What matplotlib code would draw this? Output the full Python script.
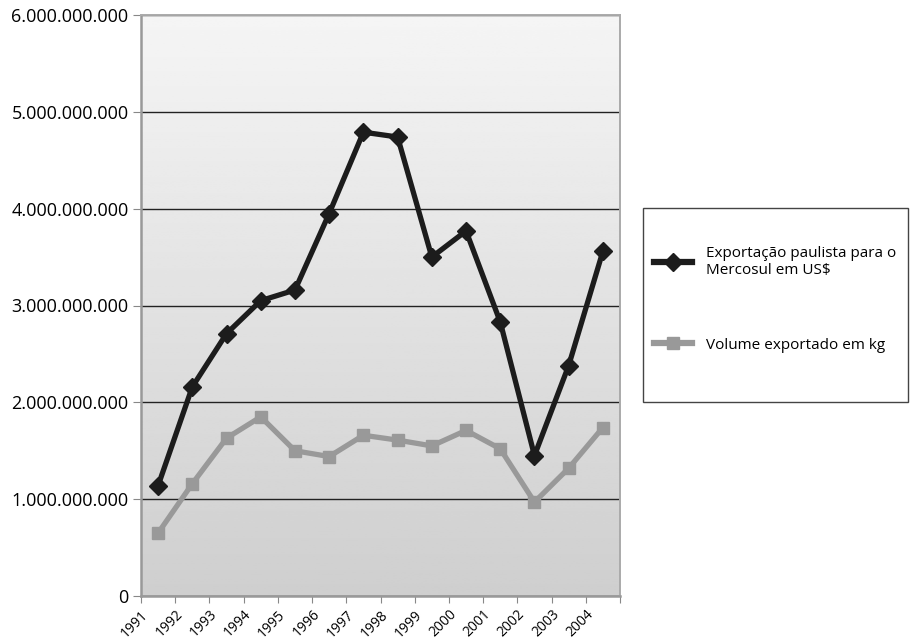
import numpy as np
import matplotlib
matplotlib.use('Agg')
import matplotlib.pyplot as plt
from matplotlib.lines import Line2D
from matplotlib.patches import Rectangle
from matplotlib.ticker import FuncFormatter
import matplotlib.transforms as mtrans

plt.rcParams['font.family'] = ['Open Sans', 'DejaVu Sans']

years = ['1991', '1992', '1993', '1994', '1995', '1996', '1997',
         '1998', '1999', '2000', '2001', '2002', '2003', '2004']
exp_usd = [1.14e9, 2.16e9, 2.71e9, 3.05e9, 3.16e9, 3.95e9, 4.79e9,
           4.74e9, 3.50e9, 3.77e9, 2.83e9, 1.45e9, 2.38e9, 3.56e9]
vol_kg = [0.65e9, 1.16e9, 1.63e9, 1.85e9, 1.50e9, 1.44e9, 1.66e9,
          1.61e9, 1.55e9, 1.71e9, 1.52e9, 0.97e9, 1.32e9, 1.74e9]

lbl_usd = 'Exportação paulista para o\nMercosul em US\\$'
lbl_kg = 'Volume exportado em kg'

fig = plt.figure(figsize=(9.1, 6.4), dpi=100)
ax = fig.add_axes([141/910, 44/640, 479/910, 581/640])

# gradient background
grad = np.linspace(0.96, 0.81, 256).reshape(-1, 1)
ax.imshow(grad, cmap='gray', vmin=0, vmax=1, aspect='auto',
          extent=[0, 1, 0, 1], transform=ax.transAxes, zorder=0)

x = np.arange(len(years))
ax.plot(x, exp_usd, color='#1c1c1c', lw=3.8, marker='D', ms=9.5,
        zorder=4, label=lbl_usd)
ax.plot(x, vol_kg, color='#999999', lw=3.8, marker='s', ms=9,
        zorder=3, label=lbl_kg)

ax.set_xlim(-0.5, len(years) - 0.5)
ax.set_ylim(0, 6e9)
ax.set_yticks(np.arange(0, 6.01e9, 1e9))
ax.yaxis.set_major_formatter(FuncFormatter(lambda v, p: f'{int(round(v)):,}'.replace(',', '.')))
ax.set_xticks(np.arange(-0.5, len(years)))
ax.set_xticklabels(years + [''], rotation=45, ha='right',
                   rotation_mode='anchor', fontsize=10)
for t in ax.get_xticklabels():
    t.set_transform(t.get_transform() + mtrans.ScaledTranslation(6/100, 0, fig.dpi_scale_trans))
ax.tick_params(axis='y', labelsize=13, length=6, color='#888888', pad=3)
ax.tick_params(axis='x', length=5, color='#888888', pad=3)
ax.grid(axis='y', color='#222222', lw=1)
for l in ax.get_ygridlines():
    l.set_zorder(1)
for s in ['left', 'bottom']:
    ax.spines[s].set_color('#999999')
    ax.spines[s].set_linewidth(1.8)
for s in ['top', 'right']:
    ax.spines[s].set_color('#aaaaaa')
    ax.spines[s].set_linewidth(1.4)

# legend frame
fig.patches.append(Rectangle((643/910, 1 - 402/640), 265/910, 194/640,
                             transform=fig.transFigure, fill=False,
                             edgecolor='#444444', lw=1.0))
handles = [Line2D([], [], color='#1c1c1c', lw=4.5, marker='D', ms=9),
           Line2D([], [], color='#999999', lw=4.5, marker='s', ms=9)]
leg = fig.legend(handles, [lbl_usd, lbl_kg], loc='upper left',
                 bbox_to_anchor=(654/910, 1 - 246/640), fontsize=11,
                 frameon=False, labelspacing=3.9, handlelength=2.5,
                 handletextpad=0.9, borderpad=0, borderaxespad=0)

fig.savefig('out.png', dpi=100)
